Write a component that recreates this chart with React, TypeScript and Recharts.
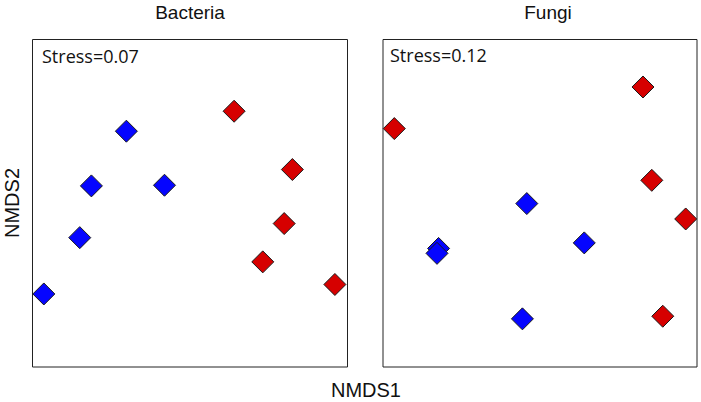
import { ReferenceArea, Scatter, ScatterChart, XAxis, YAxis } from 'recharts'

type Pt = { x: number; y: number }

// ordination scores, rescaled to 0-100 within each panel
const bacteriaBlue: Pt[] = [
  { x: 3.6, y: 22.3 },
  { x: 15.0, y: 39.5 },
  { x: 18.7, y: 55.3 },
  { x: 29.8, y: 72.0 },
  { x: 41.9, y: 55.5 },
]
const bacteriaRed: Pt[] = [
  { x: 64.0, y: 78.1 },
  { x: 82.5, y: 60.3 },
  { x: 79.9, y: 43.8 },
  { x: 73.1, y: 32.1 },
  { x: 96.0, y: 25.2 },
]
const fungiBlue: Pt[] = [
  { x: 45.8, y: 49.9 },
  { x: 64.1, y: 37.9 },
  { x: 17.7, y: 36.2 },
  { x: 17.2, y: 34.7 },
  { x: 44.4, y: 14.7 },
]
const fungiRed: Pt[] = [
  { x: 3.6, y: 72.8 },
  { x: 82.8, y: 85.5 },
  { x: 85.6, y: 57.0 },
  { x: 96.4, y: 45.2 },
  { x: 89.1, y: 15.5 },
]

const panels = [
  { title: 'Bacteria', stress: 'Stress=0.07', blue: bacteriaBlue, red: bacteriaRed },
  { title: 'Fungi', stress: 'Stress=0.12', blue: fungiBlue, red: fungiRed },
]

const BLUE = '#0505ff'
const RED = '#d60000'

function Diamond(props: any) {
  const { cx, cy, fill } = props
  if (cx == null || cy == null) return null
  const r = 11
  return (
    <polygon
      points={`${cx},${cy - r} ${cx + r},${cy} ${cx},${cy + r} ${cx - r},${cy}`}
      fill={fill}
      stroke="#1a1a1a"
      strokeWidth={1}
    />
  )
}

function Panel({ blue, red, left, width, margin }: any) {
  return (
    <div style={{ position: 'absolute', left, top: 0, width, height: 402 }}>
      <ScatterChart width={width} height={402} margin={margin}>
        <XAxis type="number" dataKey="x" domain={[0, 100]} hide />
        <YAxis type="number" dataKey="y" domain={[0, 100]} hide />
        <ReferenceArea x1={0} x2={100} y1={0} y2={100} fill="none" fillOpacity={0} stroke="#222" strokeWidth={1} />
        <Scatter data={blue} fill={BLUE} shape={<Diamond />} isAnimationActive={false} />
        <Scatter data={red} fill={RED} shape={<Diamond />} isAnimationActive={false} />
      </ScatterChart>
    </div>
  )
}

export default function App() {
  const font = '"Liberation Sans", Arial, sans-serif'
  return (
    <div style={{ position: 'absolute', left: 0, top: 0, width: 701, height: 402, background: '#fff' }}>
      <Panel
        blue={panels[0].blue}
        red={panels[0].red}
        left={0}
        width={352}
        margin={{ top: 39.5, left: 32.5, right: 4.5, bottom: 35 }}
      />
      <Panel
        blue={panels[1].blue}
        red={panels[1].red}
        left={350}
        width={351}
        margin={{ top: 39.5, left: 33, right: 4, bottom: 35 }}
      />
      <svg
        width={701}
        height={402}
        style={{ position: 'absolute', left: 0, top: 0, pointerEvents: 'none' }}
      >
        <text x={190} y={19} textAnchor="middle" fontFamily={font} fontSize={19} fill="#111">
          {panels[0].title}
        </text>
        <text x={548} y={19} textAnchor="middle" fontFamily={font} fontSize={19} fill="#111">
          {panels[1].title}
        </text>
        <text x={42} y={63} fontFamily='"Open Sans", sans-serif' fontSize={18} fill="#111">
          {panels[0].stress}
        </text>
        <text x={390} y={62} fontFamily='"Open Sans", sans-serif' fontSize={18} fill="#111">
          {panels[1].stress}
        </text>
        <text
          transform="translate(19,203) rotate(-90)"
          textAnchor="middle"
          fontFamily={font}
          fontSize={20}
          fill="#111"
        >
          NMDS2
        </text>
        <text x={366} y={397} textAnchor="middle" fontFamily={font} fontSize={20} fill="#111">
          NMDS1
        </text>
      </svg>
    </div>
  )
}
